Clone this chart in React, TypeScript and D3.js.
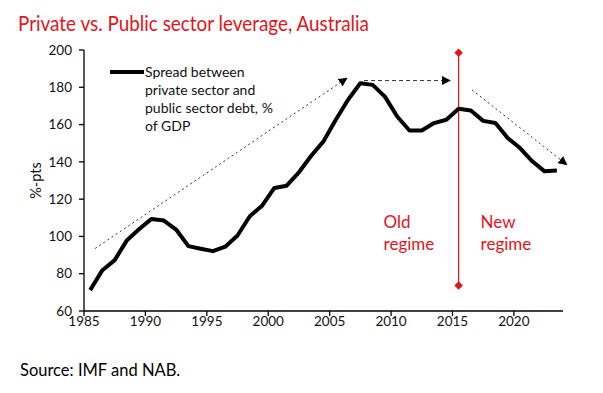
import React from 'react'
import * as d3 from 'd3'

const width = 603
const height = 393
const margin = { top: 50, right: 40, bottom: 82, left: 84 }

const years = d3.range(1985, 2024)
const spread = [
  71.2, 81.9, 87.3, 98, 104, 109.4, 108.5, 103.7, 94.8, 93.4,
  92.1, 94.5, 100.5, 110.8, 116.5, 126, 127.2, 134.4, 143.3, 151,
  162.6, 173.3, 182.2, 181.3, 175, 164.3, 156.8, 156.8, 160.8, 162.6,
  168.5, 167.5, 162, 160.8, 152.8, 147.4, 140.3, 134.9, 135.3
]
const yTicks = [60, 80, 100, 120, 140, 160, 180, 200]
const xTicks = [1985, 1990, 1995, 2000, 2005, 2010, 2015, 2020]
const legendLines = ['Spread between', 'private sector and', 'public sector debt, %', 'of GDP']

// trend arrows: [x0, y0, x1, y1] in data units
const arrows = [
  { from: [1985.9, 93.5], to: [2006.4, 184.9], dash: '2,3' },
  { from: [2007.8, 183.6], to: [2014.8, 183.6], dash: '4,3' },
  { from: [2016.6, 178.6], to: [2024.3, 138.5], dash: '2,3' }
]
const regimeYear = 2015.5
const regimeRange = [198.5, 73.7]

const red = '#e3141b'
const font = 'Lato, "Open Sans", sans-serif'

const App: React.FC = () => {
  const x = d3.scaleLinear().domain([1985, 2024]).range([margin.left, width - margin.right])
  const y = d3.scaleLinear().domain([60, 200]).range([height - margin.bottom, margin.top])

  const line = d3.line<number>()
    .x((_, i) => x(years[i] + 0.5))
    .y(d => y(d))

  const x0 = margin.left
  const yBase = y(60)
  const rx = x(regimeYear)

  return (
    <svg width={width} height={height} style={{ position: 'absolute', left: 0, top: 0, background: '#fff' }}
      fontFamily={font}>
      <defs>
        <marker id="ah" viewBox="0 0 10 10" refX="9" refY="5" markerWidth="9" markerHeight="9"
          markerUnits="userSpaceOnUse" orient="auto">
          <path d="M0,0 L10,5 L0,10 z" fill="#000" />
        </marker>
      </defs>
      <text x={18} y={31} fill={red} fontSize={22} textLength={351} lengthAdjust="spacingAndGlyphs">
        Private vs. Public sector leverage, Australia
      </text>

      {/* y axis */}
      <line x1={x0} x2={x0} y1={y(200)} y2={yBase} stroke="#000" strokeWidth={1.3} />
      {yTicks.map(t => (
        <g key={t}>
          <line x1={x0 - 5} x2={x0} y1={y(t)} y2={y(t)} stroke="#000" strokeWidth={1.3} />
          <text x={x0 - 12} y={y(t)} dy="0.35em" textAnchor="end" fontSize={13.5} fill="#111">{t}</text>
        </g>
      ))}
      {/* x axis */}
      <line x1={x0} x2={x(2024)} y1={yBase} y2={yBase} stroke="#000" strokeWidth={1.3} />
      {xTicks.map(t => (
        <g key={t}>
          <line x1={x(t)} x2={x(t)} y1={yBase} y2={yBase + 5} stroke="#000" strokeWidth={1.3} />
          <text x={x(t)} y={yBase + 14.5} textAnchor="middle" fontSize={13.5} fill="#111">{t}</text>
        </g>
      ))}
      <text transform={`translate(36,${(y(60) + y(200)) / 2}) rotate(-90)`} textAnchor="middle" dy="0.35em"
        fontSize={14.5} fill="#111">%-pts</text>

      {/* trend arrows */}
      {arrows.map((a, i) => (
        <line key={i} x1={x(a.from[0])} y1={y(a.from[1])} x2={x(a.to[0])} y2={y(a.to[1])}
          stroke="#333" strokeWidth={1} strokeDasharray={a.dash} markerEnd="url(#ah)" />
      ))}

      {/* regime divider */}
      <line x1={rx} x2={rx} y1={y(regimeRange[0])} y2={y(regimeRange[1])} stroke={red} strokeWidth={1.2} />
      {regimeRange.map(v => (
        <rect key={v} x={rx - 3} y={y(v) - 3} width={6} height={6} fill={red}
          transform={`rotate(45 ${rx} ${y(v)})`} />
      ))}
      <text fill={red} fontSize={17}>
        <tspan x={rx - 75} y={228}>Old</tspan>
        <tspan x={rx - 75} dy={22}>regime</tspan>
      </text>
      <text fill={red} fontSize={17}>
        <tspan x={rx + 22} y={228}>New</tspan>
        <tspan x={rx + 22} dy={22}>regime</tspan>
      </text>

      {/* series */}
      <path d={line(spread) || ''} fill="none" stroke="#000" strokeWidth={4} strokeLinejoin="round" />

      {/* legend */}
      <line x1={110} x2={144} y1={72} y2={72} stroke="#000" strokeWidth={4} />
      <text fontSize={14} fill="#111">
        {legendLines.map((l, i) => (
          <tspan key={i} x={145} y={72 + i * 18} dy="0.35em">{l}</tspan>
        ))}
      </text>

      <text x={20} y={376} fontSize={16.5} fill="#000">Source: IMF and NAB.</text>
    </svg>
  )
}

export default App
